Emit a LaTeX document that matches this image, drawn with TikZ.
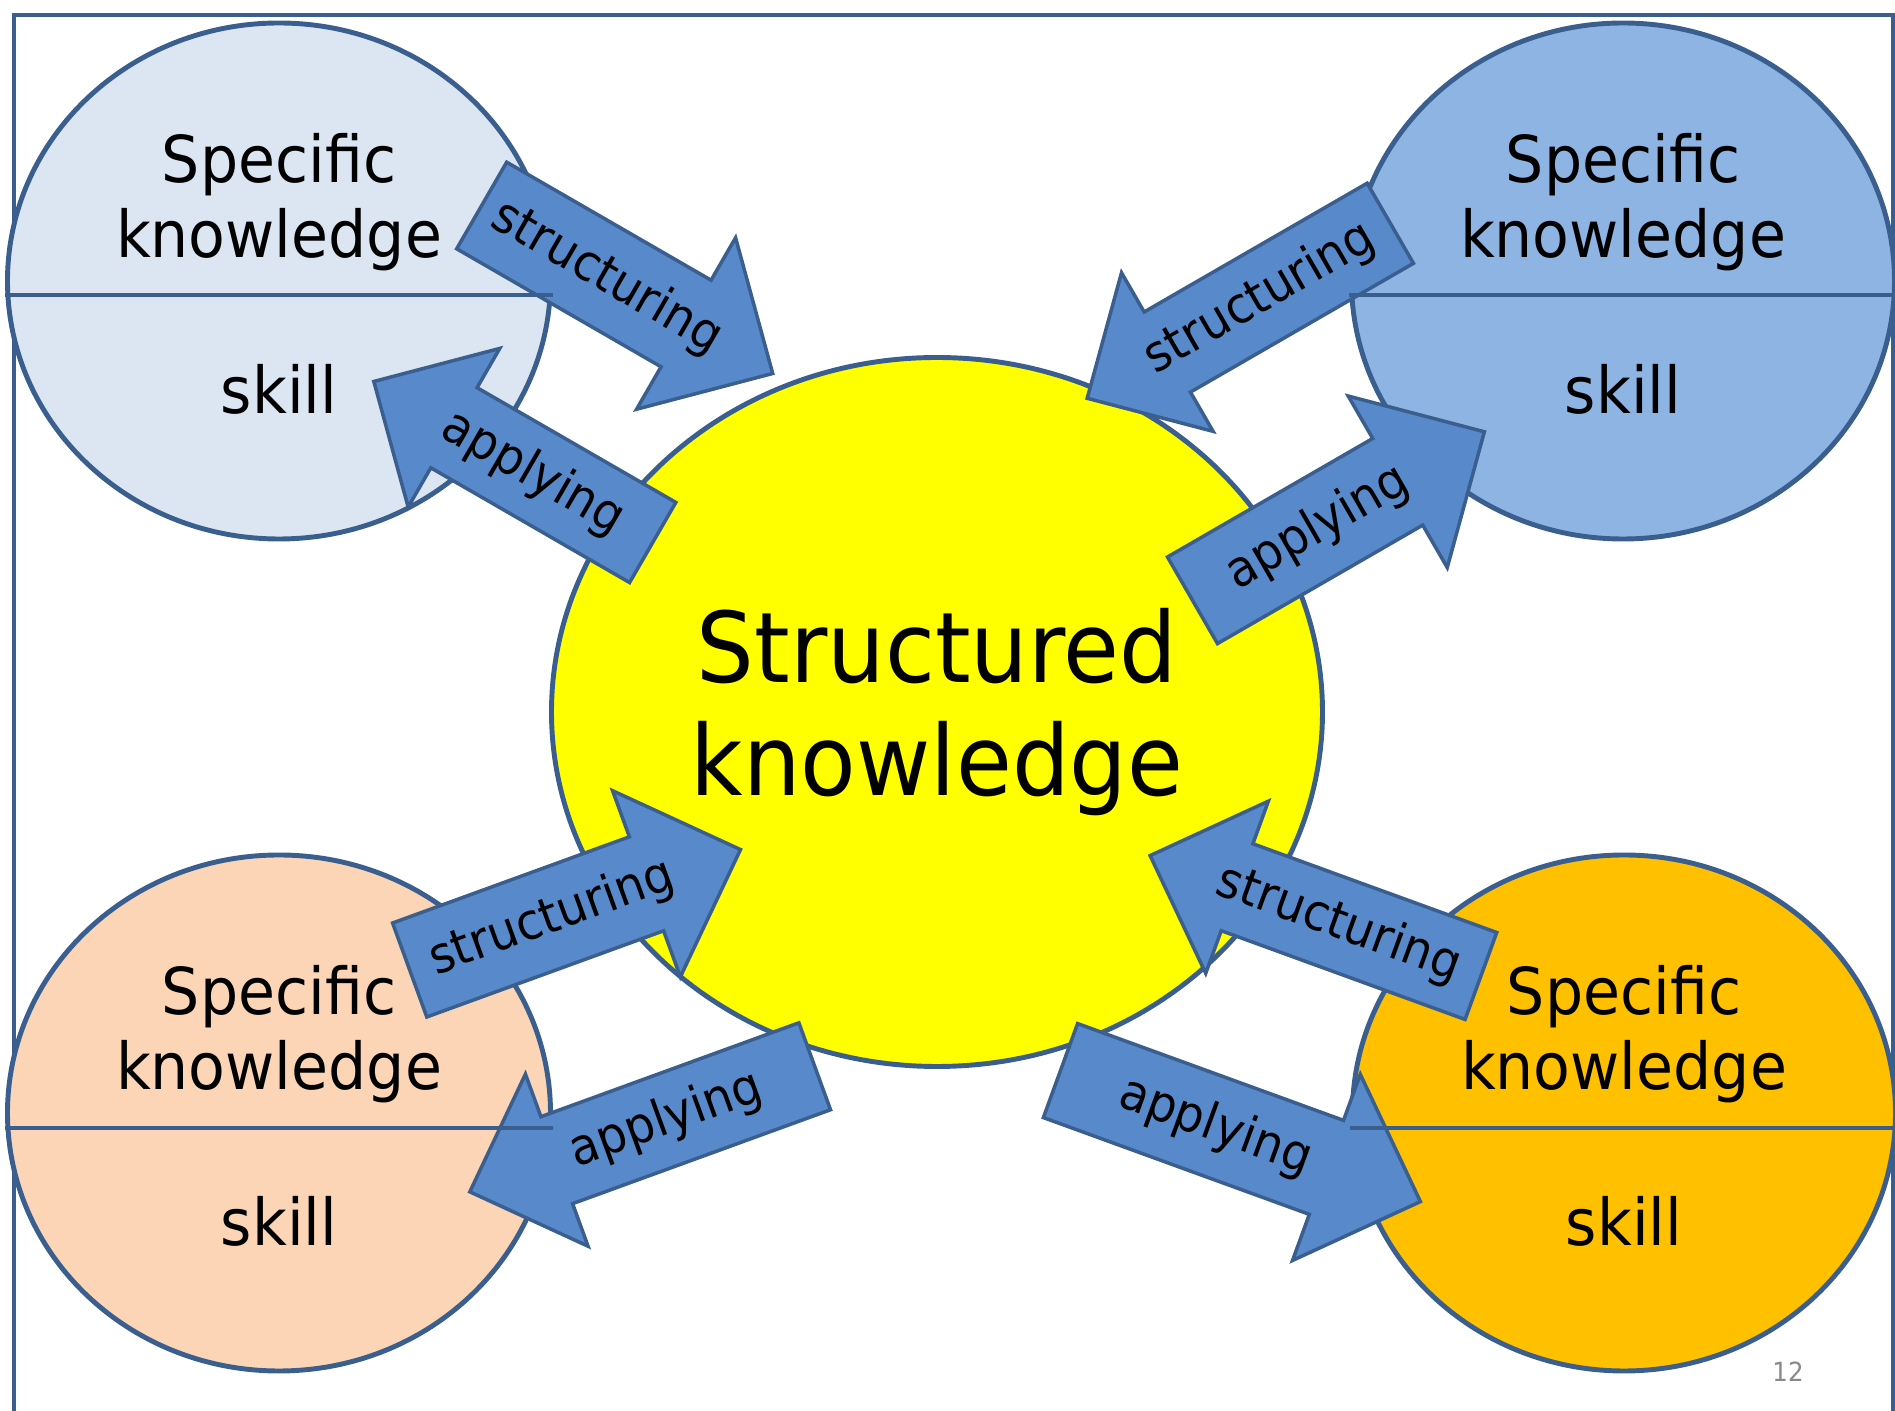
\documentclass[tikz,border=0pt]{standalone}
\usepackage{fontspec}
\setmainfont{DejaVu Sans}[FakeStretch=0.93]
\usetikzlibrary{shapes.geometric}
\definecolor{edgeblue}{RGB}{58,95,143}
\definecolor{arrowblue}{RGB}{88,138,203}
\definecolor{paleblue}{RGB}{220,230,242}
\definecolor{midblue}{RGB}{142,180,227}
\definecolor{peach}{RGB}{251,213,181}
\definecolor{amber}{RGB}{255,192,0}
\definecolor{sunyellow}{RGB}{255,255,0}
\definecolor{pagegray}{RGB}{137,137,137}
\tikzset{
  blob/.style={ellipse,draw=edgeblue,line width=1.4pt,minimum width=5.43cm,minimum height=5.16cm,inner sep=0pt},
  divider/.style={draw=edgeblue,line width=1.3pt},
  arrowshape/.style={fill=arrowblue,draw=edgeblue,line width=1pt,line join=miter},
  arrowtext/.style={font=\fontsize{14.3}{17}\selectfont,inner sep=0pt},
  sktext/.style={font=\fontsize{18.4}{21.4}\selectfont,align=center,inner sep=0pt},
  bigtext/.style={font=\fontsize{27.8}{32.3}\selectfont,align=center,inner sep=0pt}
}
\newcommand{\blockarrow}[7]{%
 \begin{scope}[shift={#2},rotate=#3]
 \draw[arrowshape](0,-0.5*#5)--({#4-#5},-0.5*#5)--({#4-#5},-0.99*#5)--(#4,0)--({#4-#5},0.99*#5)--({#4-#5},0.5*#5)--(0,0.5*#5)--cycle;
 \node[arrowtext,rotate=#6] (#1) at ({0.43*#4},0) {#7};
 \end{scope}}
\begin{document}
\begin{tikzpicture}
 \useasboundingbox (0,0) rectangle (18.95,14.11);
 \draw[edgeblue,line width=1.2pt](0.14,0)--(0.14,13.96)--(18.93,13.96)--(18.93,0);
 \node[blob,fill=paleblue] (tl) at (2.79,11.30) {};
 \node[blob,fill=midblue] (tr) at (16.23,11.30) {};
 \node[blob,fill=peach] (bl) at (2.79,2.98) {};
 \node[blob,fill=amber] (br) at (16.24,2.98) {};
 \node[ellipse,draw=edgeblue,line width=1.4pt,fill=sunyellow,minimum width=7.71cm,minimum height=7.09cm,inner sep=0pt] (core) at (9.37,6.99) {};
 \node[sktext] (tlk) at ([yshift=0.79cm]tl.center) {Specific\\knowledge};
 \node[sktext] (tls) at ([yshift=-1.08cm]tl.center) {skill};
 \node[sktext] (trk) at ([yshift=0.79cm]tr.center) {Specific\\knowledge};
 \node[sktext] (trs) at ([yshift=-1.08cm]tr.center) {skill};
 \node[sktext] (blk) at ([yshift=0.79cm]bl.center) {Specific\\knowledge};
 \node[sktext] (bls) at ([yshift=-1.08cm]bl.center) {skill};
 \node[sktext] (brk) at ([yshift=0.79cm]br.center) {Specific\\knowledge};
 \node[sktext] (brs) at ([yshift=-1.08cm]br.center) {skill};
 \node[bigtext] (coretext) at (core.center) {Structured\\knowledge};
 \blockarrow{tlstruct}{(4.817,12.055)}{-30}{3.36}{1}{-30}{structuring}
 \blockarrow{tlapply}{(6.527,8.685)}{150}{3.22}{0.925}{-30}{applying}
 \blockarrow{trstruct}{(13.903,11.877)}{210}{3.50}{0.925}{30}{structuring}
 \blockarrow{trapply}{(11.925,8.107)}{30}{3.37}{1}{30}{applying}
 \blockarrow{blstruct}{(4.097,4.41)}{20}{3.52}{1}{20}{structuring}
 \blockarrow{blapply}{(8.147,3.447)}{200}{3.67}{0.925}{20}{applying}
 \blockarrow{brstruct}{(14.809,4.35)}{160}{3.52}{0.925}{-20}{structuring}
 \blockarrow{brapply}{(10.605,3.404)}{-20}{3.83}{1}{-20}{applying}
 \draw[divider]([yshift=-0.14cm]tl.west)--([yshift=-0.14cm]tl.east);
 \draw[divider]([yshift=-0.14cm]tr.west)--([yshift=-0.14cm]tr.east);
 \draw[divider]([yshift=-0.15cm]bl.west)--([yshift=-0.15cm]bl.east);
 \draw[divider]([yshift=-0.15cm]br.west)--([yshift=-0.15cm]br.east);
 \node[font=\fontsize{7.5}{9}\selectfont,text=pagegray] (pagenum) at (17.88,0.39) {12};
\end{tikzpicture}
\end{document}
